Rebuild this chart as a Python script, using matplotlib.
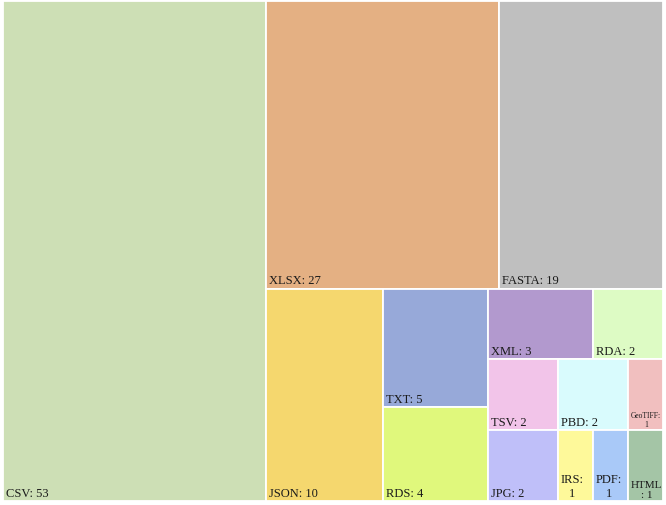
import matplotlib.pyplot as plt
from matplotlib.patches import Rectangle

# file formats and their counts
labels = ["CSV", "XLSX", "FASTA", "JSON", "TXT", "RDS", "XML", "RDA",
          "TSV", "JPG", "PBD", "GeoTIFF", "IRS", "PDF", "HTML"]
values = [53, 27, 19, 10, 5, 4, 3, 2, 2, 2, 2, 1, 1, 1, 1]
colors = ["#cddfb5", "#e4b083", "#bfbfbf", "#f5d76e", "#97a9d9", "#e0f87c",
          "#b299ce", "#ddfbc4", "#f2c4e9", "#bfbff9", "#d9fbfd", "#f1bfbf",
          "#fef99a", "#a9c9f8", "#a4c5a6"]

W, H = 660.0, 500.0


def worst(row, side):
    t = sum(row) / side
    return max(max(t * t / a, a / (t * t)) for a in row)


def squarify(areas, x, y, w, h):
    """Squarified layout: strips along the short side, y grows downwards."""
    rects = []
    i, n = 0, len(areas)
    while i < n:
        vertical = w >= 0.95 * h  # column on the left
        side = h if vertical else w
        j = i + 1
        while j < n and worst(areas[i:j + 1], side) < 0.97 * worst(areas[i:j], side):
            j += 1
        row = areas[i:j]
        t = sum(row) / side
        pos = y if vertical else x
        for a in row:
            l = a / t
            if vertical:
                rects.append((x, pos, t, l))
            else:
                rects.append((pos, y, l, t))
            pos += l
        if vertical:
            x += t
            w -= t
        else:
            y += t
            h -= t
        i = j
    return rects


total = sum(values)
areas = [v * W * H / total for v in values]
rects = squarify(areas, 0, 0, W, H)

fig = plt.figure(figsize=(6.66, 5.06), dpi=100)
ax = fig.add_axes([3 / 666, 4 / 506, W / 666, H / 506])
ax.set_xlim(0, W)
ax.set_ylim(H, 0)
ax.axis("off")

for (x, y, w, h), c in zip(rects, colors):
    ax.add_patch(Rectangle((x, y), w, h, facecolor=c, edgecolor="white", linewidth=1.3))

renderer = fig.canvas.get_renderer()
sizes = [9, 8.5, 8, 7.5, 7, 6.5, 6, 5.5, 5, 4.5, 4]
for (x, y, w, h), name, v in zip(rects, labels, values):
    placed = False
    for fs in sizes:
        options = [f"{name}: {v}", f"{name}:\n{v}"]
        if fs >= 7.5:
            options.append(f"{name}\n: {v}")
        for s in options:
            t = ax.text(x + 3, y + h - 2, s, fontsize=fs, family="Liberation Serif",
                        color="#1a1a1a", ha="left", va="bottom", multialignment="center")
            if t.get_window_extent(renderer).width <= w - 3:
                placed = True
                break
            t.remove()
        if placed:
            break

fig.savefig("out.png", dpi=100, facecolor="white")
